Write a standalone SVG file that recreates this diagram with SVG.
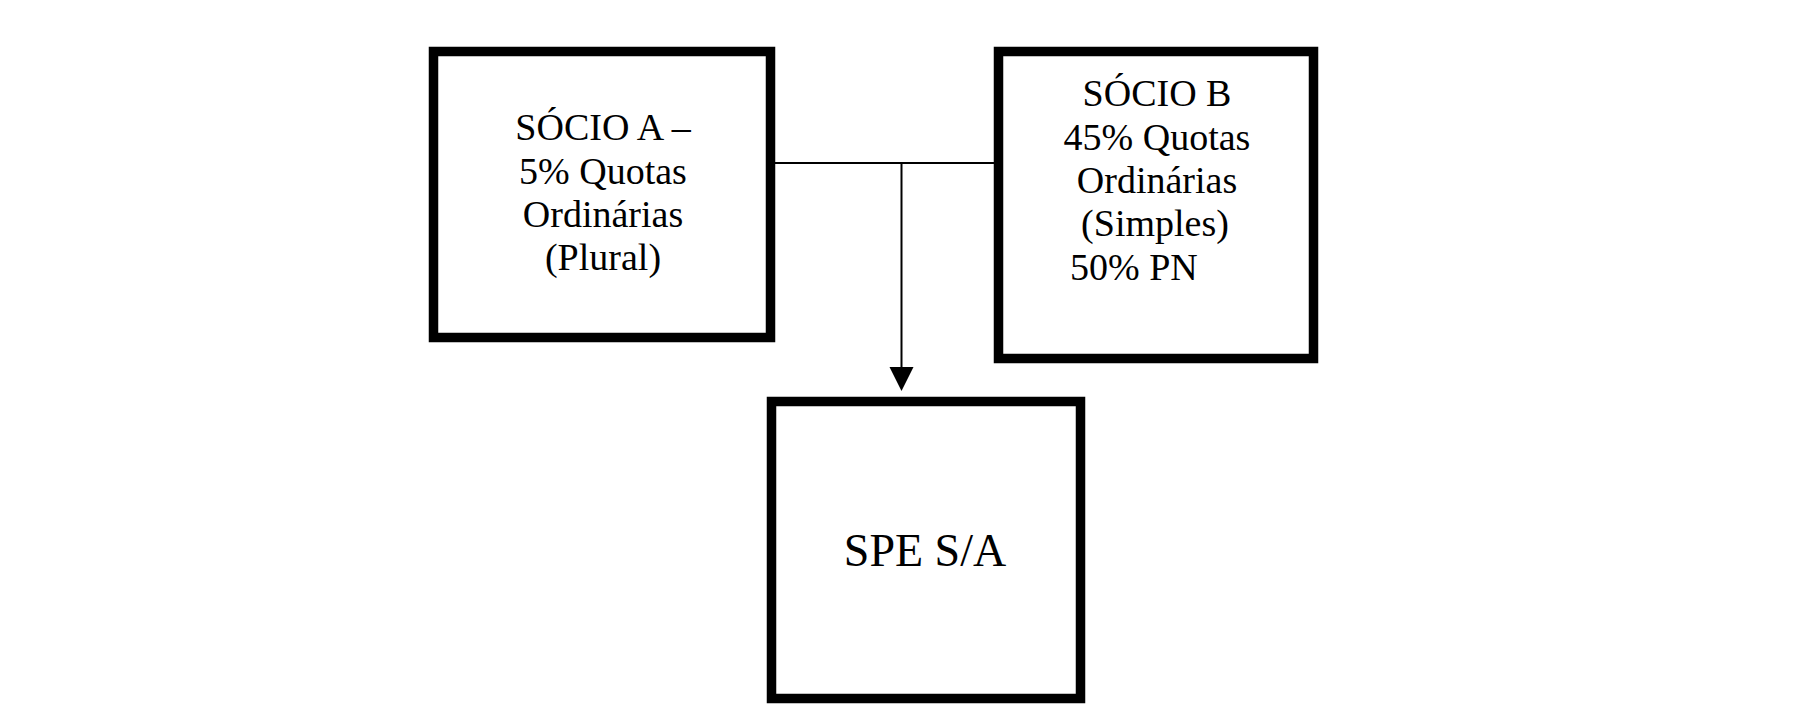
<svg xmlns="http://www.w3.org/2000/svg" width="1818" height="714" viewBox="0 0 1818 714">
<style>
.box{fill:#fff;stroke:#000;stroke-width:9.5}
.t{font-family:"Liberation Serif","Times New Roman",serif;font-size:38px;fill:#000}
.c{text-anchor:middle}
.conn{stroke:#000;stroke-width:2;fill:none}
</style>
<rect width="1818" height="714" fill="#fff"/>
<g id="connectors">
<line class="conn" x1="775" y1="163" x2="994" y2="163"/>
<line class="conn" x1="901.5" y1="163" x2="901.5" y2="368"/>
<polygon points="889.5,367 913.5,367 901.5,391" fill="#000"/>
</g>
<g id="socio-a">
<rect class="box" x="433.5" y="51.5" width="337" height="286"/>
<text class="t c" x="603" y="140">SÓCIO A –</text>
<text class="t c" x="603" y="183.5">5% Quotas</text>
<text class="t c" x="603" y="226.5">Ordinárias</text>
<text class="t c" x="603" y="269.5">(Plural)</text>
</g>
<g id="socio-b">
<rect class="box" x="998.5" y="51.5" width="315" height="307"/>
<text class="t c" x="1157" y="106">SÓCIO B</text>
<text class="t c" x="1157" y="149.5">45% Quotas</text>
<text class="t c" x="1157" y="192.5">Ordinárias</text>
<text class="t c" x="1155" y="236">(Simples)</text>
<text class="t" x="1070" y="280">50% PN</text>
</g>
<g id="spe">
<rect class="box" x="771.5" y="401.5" width="309" height="297"/>
<text class="t c" x="925" y="566" style="font-size:46px">SPE S/A</text>
</g>
</svg>
